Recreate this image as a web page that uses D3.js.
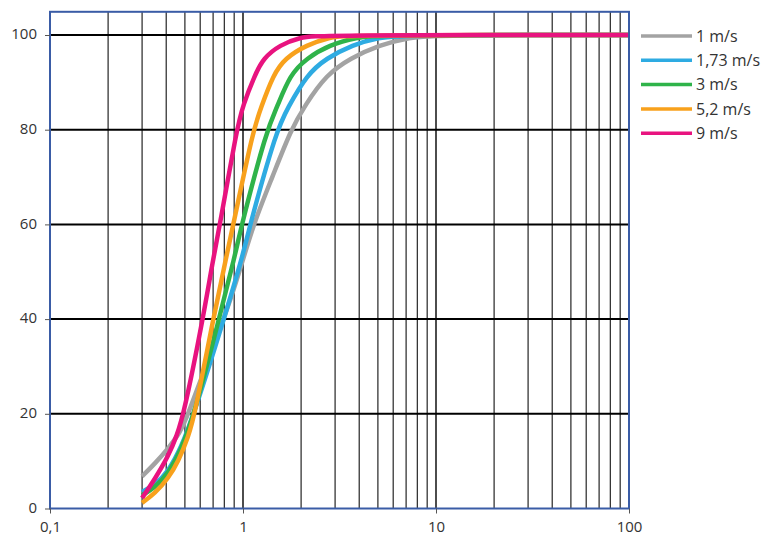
<!DOCTYPE html>
<html>
<head>
<meta charset="utf-8">
<script src="https://cdn.jsdelivr.net/npm/d3@7"></script>
<style>
  html, body { margin: 0; padding: 0; background: #fff; }
  svg { display: block; }
  text { font-family: "Open Sans", "DejaVu Sans", sans-serif; fill: #333; }
</style>
</head>
<body>
<svg id="chart" width="768" height="545"></svg>
<script>
// ---- data ----
const seriesNames = ["1 m/s", "1,73 m/s", "3 m/s", "5,2 m/s", "9 m/s"];
const seriesColors = ["#a3a3a3", "#2eabe2", "#2fb34a", "#f8a11c", "#e8137f"];

const s1 = [[0.3,6.8],[0.35,9.5],[0.41,12.7],[0.47,15.9],[0.521,20],[0.64,30],[0.797,40],[0.96,50],[1.13,60],[1.42,70],[1.77,80],[2.1,85.2],[2.7,91.6],[3.6,95.1],[5.1,97.9],[7.3,99.5],[10,100],[100,100]];
const s173 = [[0.3,3.5],[0.35,5],[0.41,7.8],[0.48,13],[0.557,20],[0.797,40],[1.0,53.5],[1.087,60],[1.495,80],[1.7,84.5],[2.14,91.6],[2.7,95.1],[3.7,97.9],[5,99.5],[7,100],[100,100]];
const s3 = [[0.3,2.8],[0.35,4.4],[0.41,7.4],[0.48,12.5],[0.56,20],[0.751,40],[0.91,53.5],[0.984,60],[1.327,80],[1.5,84.7],[1.75,91.6],[2.14,95.1],[2.8,97.9],[3.9,99.5],[5,100],[100,100]];
const s52 = [[0.3,1.2],[0.35,3.2],[0.41,6.4],[0.462,9.9],[0.521,15.2],[0.564,20],[0.70,40],[0.823,53.5],[0.891,60],[1.13,80],[1.24,84.7],[1.435,91.6],[1.65,95.1],[2.14,97.9],[2.8,99.5],[3.5,100],[100,100]];
const s9 = [[0.3,2.2],[0.35,6.3],[0.41,11],[0.455,15.5],[0.494,20],[0.62,40],[0.695,52],[0.76,60],[0.927,80],[1.0,85.2],[1.154,91.6],[1.274,95.1],[1.555,97.9],[1.97,99.5],[2.5,100],[100,100]];
const seriesData = [s1, s173, s3, s52, s9];

const xTickValues = [0.1, 1, 10, 100];
const xTickLabels = ["0,1", "1", "10", "100"];
const yTickValues = [0, 20, 40, 60, 80, 100];
const xMinorGrid = [0.2,0.3,0.4,0.5,0.6,0.7,0.8,0.9,2,3,4,5,6,7,8,9,20,30,40,50,60,70,80,90];

// ---- layout ----
const svg = d3.select("#chart");
const plotLeft = 50, plotRight = 629, plotBottom = 508.5, plotY100 = 35;
const x = d3.scaleLog().domain([0.1, 100]).range([plotLeft, plotRight]);
const y = d3.scaleLinear().domain([0, 100]).range([plotBottom, plotY100]);
const plotTop = y(104.9);

// minor vertical grid
svg.append("g").selectAll("line").data(xMinorGrid).join("line")
  .attr("x1", d => x(d)).attr("x2", d => x(d))
  .attr("y1", plotTop).attr("y2", plotBottom)
  .attr("stroke", "#111").attr("stroke-width", 1.1);
// major vertical grid
svg.append("g").selectAll("line").data([1, 10]).join("line")
  .attr("x1", d => x(d)).attr("x2", d => x(d))
  .attr("y1", plotTop).attr("y2", plotBottom)
  .attr("stroke", "#000").attr("stroke-width", 1.4);
// horizontal grid
svg.append("g").selectAll("line").data(yTickValues.filter(v => v > 0)).join("line")
  .attr("x1", plotLeft).attr("x2", plotRight)
  .attr("y1", d => y(d)).attr("y2", d => y(d))
  .attr("stroke", "#000").attr("stroke-width", 2);

// curves
const line = d3.line().x(d => x(d[0])).y(d => y(d[1])).curve(d3.curveBasis);
svg.append("g").selectAll("path").data(seriesData).join("path")
  .attr("d", line)
  .attr("fill", "none")
  .attr("stroke", (d, i) => seriesColors[i])
  .attr("stroke-width", 4.5)
  .attr("stroke-linejoin", "round");

// frame
svg.append("rect")
  .attr("x", plotLeft).attr("y", plotTop)
  .attr("width", plotRight - plotLeft).attr("height", plotBottom - plotTop)
  .attr("fill", "none").attr("stroke", "#3a5ca6").attr("stroke-width", 2);

// axes
const xAxis = d3.axisBottom(x).tickValues(xTickValues)
  .tickFormat((d, i) => xTickLabels[i]).tickSize(5).tickPadding(8);
const gx = svg.append("g").attr("transform", `translate(0,${plotBottom})`).call(xAxis);
gx.select(".domain").remove();
gx.selectAll("line").attr("stroke", "#555");
gx.selectAll("text").attr("font-size", 15).attr("fill", "#333")
  .attr("font-family", "'Open Sans', sans-serif");

const yAxis = d3.axisLeft(y).tickValues(yTickValues).tickSize(5).tickPadding(8);
const gy = svg.append("g").attr("transform", `translate(${plotLeft},0)`).call(yAxis);
gy.select(".domain").remove();
gy.selectAll("line").attr("stroke", "#555");
gy.selectAll("text").attr("font-size", 15).attr("fill", "#333")
  .attr("font-family", "'Open Sans', sans-serif").attr("dy", "0.25em");

// legend
const legend = svg.append("g");
const rows = legend.selectAll("g").data(seriesNames).join("g")
  .attr("transform", (d, i) => `translate(641,${36 + i * 24.3})`);
rows.append("line").attr("x1", 0).attr("x2", 51).attr("y1", 0).attr("y2", 0)
  .attr("stroke", (d, i) => seriesColors[i]).attr("stroke-width", 3.5);
rows.append("text").attr("x", 55).attr("y", 0).attr("dy", "0.35em")
  .attr("font-size", 16).text(d => d);
</script>
</body>
</html>
